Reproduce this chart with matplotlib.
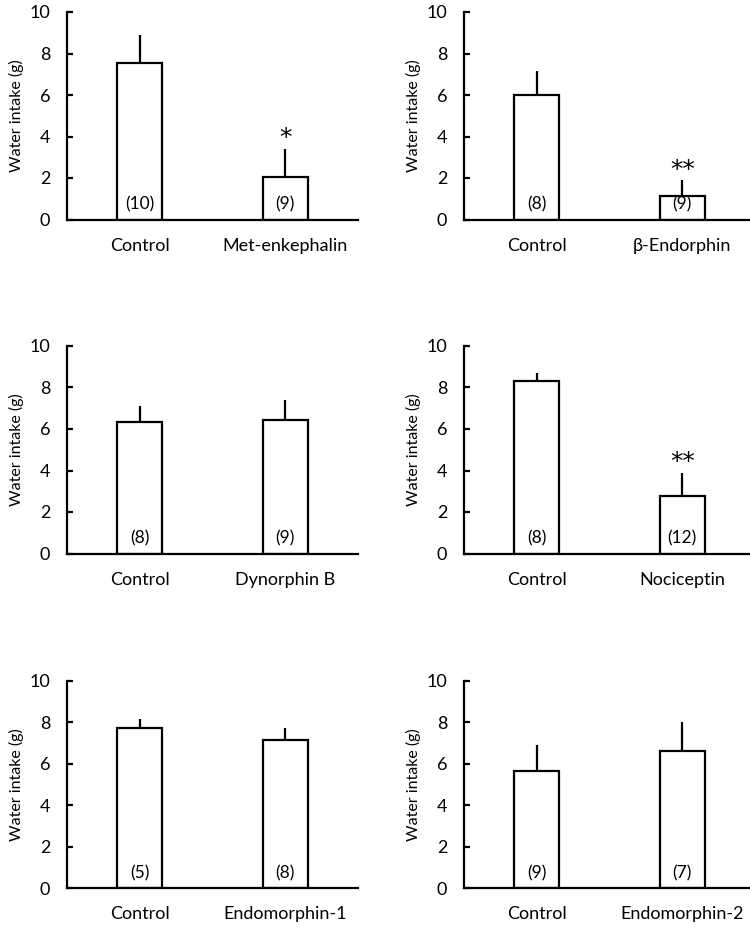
import matplotlib
matplotlib.use("Agg")
import matplotlib.pyplot as plt
import numpy as np

plt.rcParams['font.family'] = ['Lato', 'DejaVu Sans']

# Data
treatments = ["Met-enkephalin", "β-Endorphin", "Dynorphin B",
              "Nociceptin", "Endomorphin-1", "Endomorphin-2"]
control_means = [7.52, 6.02, 6.35, 8.32, 7.73, 5.63]
control_sems = [1.37, 1.12, 0.75, 0.40, 0.41, 1.25]
treat_means = [2.04, 1.14, 6.43, 2.77, 7.16, 6.63]
treat_sems = [1.37, 0.74, 0.97, 1.12, 0.55, 1.37]
control_n = ["(10)", "(8)", "(8)", "(8)", "(5)", "(9)"]
treat_n = ["(9)", "(9)", "(9)", "(12)", "(8)", "(7)"]
significance = ["*", "**", "", "**", "", ""]
y_ticks = [0, 2, 4, 6, 8, 10]

fig = plt.figure(figsize=(7.5, 9.27), dpi=100)
W, H = 750, 927
lefts = [67, 464]
tops = [12, 346, 680.7]
ax_w, ax_h = 291, 207.5

for i, name in enumerate(treatments):
    r, c = divmod(i, 2)
    ax = fig.add_axes([lefts[c] / W, 1 - (tops[r] + ax_h) / H, ax_w / W, ax_h / H])
    x = np.array([0, 1])
    means = [control_means[i], treat_means[i]]
    sems = [control_sems[i], treat_sems[i]]
    ax.errorbar(x, means, yerr=[[0, 0], sems], fmt='none', ecolor='black',
                elinewidth=1.6, capsize=0, zorder=1)
    ax.bar(x, means, width=0.31, color='white', edgecolor='black',
           linewidth=1.6, zorder=2)
    for xi, lab in zip(x, [control_n[i], treat_n[i]]):
        ax.text(xi, 0.72, lab, ha='center', va='center', fontsize=12.5, zorder=3)
    if significance[i]:
        ax.text(1, treat_means[i] + treat_sems[i] + 0.5, significance[i],
                ha='center', va='center', fontsize=18,
                family='DejaVu Sans', zorder=3)
    ax.set_xlim(-0.5, 1.5)
    ax.set_ylim(0, 10)
    ax.set_yticks(y_ticks)
    ax.set_xticks(x)
    ax.set_xticklabels(["Control", name])
    ax.set_ylabel("Water intake (g)", fontsize=11.5, labelpad=4)
    for s in ['top', 'right']:
        ax.spines[s].set_visible(False)
    for s in ['left', 'bottom']:
        ax.spines[s].set_linewidth(1.6)
    ax.tick_params(axis='y', direction='in', length=4.5, width=1.6,
                   labelsize=13, pad=12)
    ax.tick_params(axis='x', length=0, labelsize=13, pad=13)

fig.savefig("out.png", dpi=100)
